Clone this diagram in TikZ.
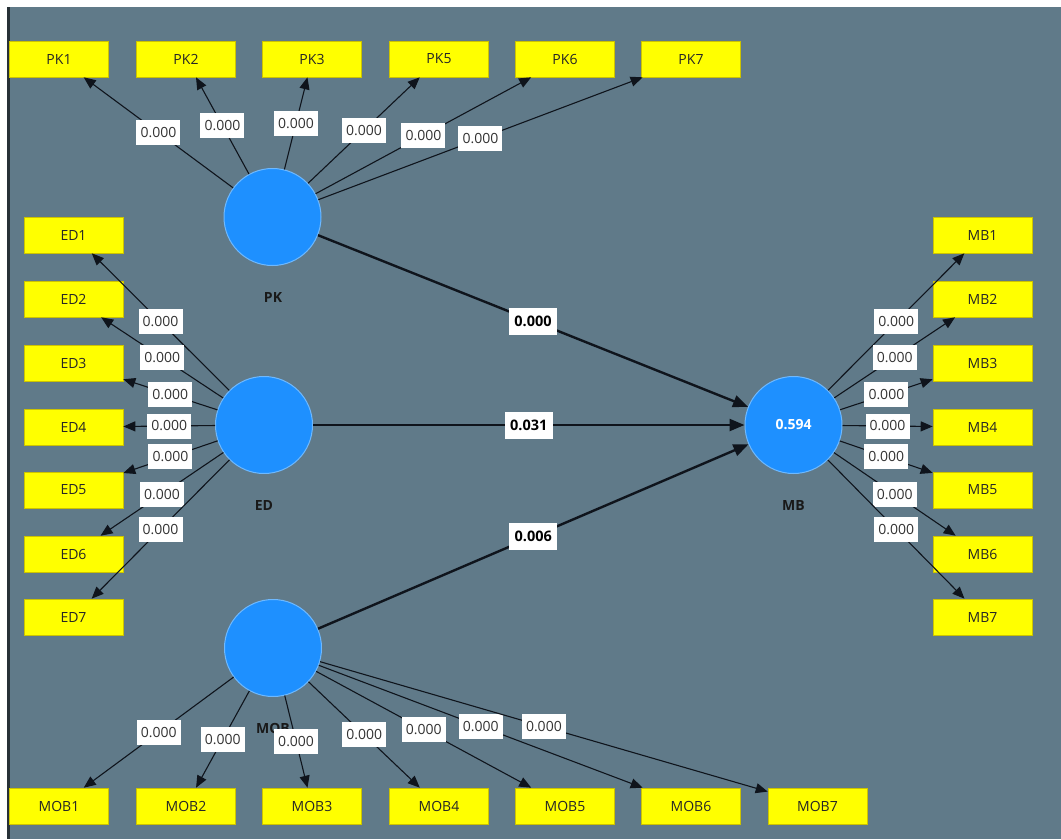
\documentclass[tikz,border=0pt]{standalone}
\usepackage{fontspec}
\setmainfont{Open Sans}
\usetikzlibrary{arrows.meta}
\definecolor{bg}{RGB}{96,122,137}
\definecolor{lv}{RGB}{30,144,255}
\definecolor{lvb}{RGB}{110,185,255}
\definecolor{ind}{RGB}{255,255,0}
\definecolor{indb}{RGB}{205,195,0}
\definecolor{ln}{RGB}{15,20,28}
\begin{document}
\begin{tikzpicture}[x=1pt,y=-1pt,
 indbox/.style={rectangle, fill=ind, draw=indb, line width=0.6pt, minimum width=99pt, minimum height=36pt, inner sep=0pt, font=\fontsize{14}{14}\selectfont, text=black!85},
 latent/.style={circle, fill=lv, draw=lvb, line width=1pt, minimum size=97pt, inner sep=0pt},
 lvname/.style={font=\bfseries\fontsize{14}{14}\selectfont, text=black!90},
 meas/.style={draw=ln, line width=1.1pt, -{Triangle[length=12pt,width=10pt]}},
 struct/.style={draw=ln, line width=2.4pt, -{Triangle[length=15pt,width=12pt]}},
 wlab/.style={fill=white, inner sep=0pt, minimum width=44pt, minimum height=25pt, font=\fontsize{14}{14}\selectfont, text=black!80},
 slab/.style={wlab, font=\bfseries\fontsize{14.5}{14.5}\selectfont, text=black, minimum width=48pt, minimum height=27pt}
]
\useasboundingbox (0,0) rectangle (1061,839);
\fill[white] (0,0) rectangle (1061,839);
\fill[bg] (8,7) rectangle (1061,839);
\fill[black!60!bg] (7,7) rectangle (10,839);

% latent variables
\node[latent] (PK) at (272.5,217) {};
\node[latent] (ED) at (264,425) {};
\node[latent] (MB) at (793.5,425) {\textcolor{white}{\bfseries\fontsize{14}{14}\selectfont 0.594}};
\node[latent] (MOB) at (273,648) {};
\node[lvname] (nPK) at (273,297) {PK};
\node[lvname] (nED) at (264,505) {ED};
\node[lvname] (nMB) at (793.5,505) {MB};
\node[lvname] (nMOB) at (273,728) {MOB};

% indicators
\foreach \n/\x in {1/59,2/186,3/312,5/439,6/565,7/691}
  \node[indbox] (PK\n) at (\x,59) {PK\n};
\foreach \n/\y in {1/235,2/299,3/363,4/427,5/490,6/554,7/617}{
  \node[indbox] (ED\n) at (73.5,\y) {ED\n};
  \node[indbox] (MB\n) at (982.5,\y) {MB\n};
}
\foreach \n/\x in {1/59,2/186,3/312,4/439,5/565,6/691,7/817.5}
  \node[indbox] (MOB\n) at (\x,806) {MOB\n};

% measurement model
\foreach \n in {1,2,3,5,6,7}
  \draw[meas] (PK) -- node[wlab]{0.000} (PK\n);
\foreach \n in {1,...,7}{
  \draw[meas] (ED) -- node[wlab]{0.000} (ED\n);
  \draw[meas] (MB) -- node[wlab]{0.000} (MB\n);
  \draw[meas] (MOB) -- node[wlab]{0.000} (MOB\n);
}

% structural model
\draw[struct] (PK) -- node[slab]{0.000} (MB);
\draw[struct] (ED) -- node[slab]{0.031} (MB);
\draw[struct] (MOB) -- node[slab]{0.006} (MB);
\end{tikzpicture}
\end{document}
